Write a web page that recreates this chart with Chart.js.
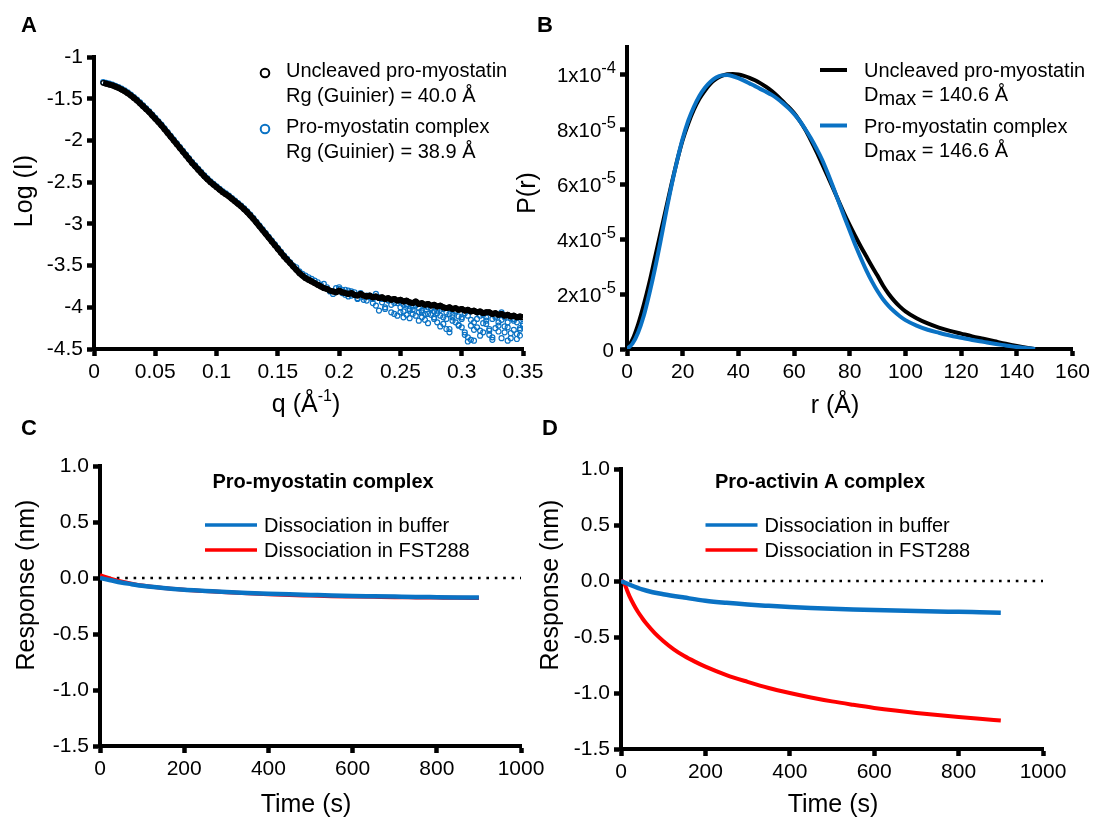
<!DOCTYPE html>
<html><head><meta charset="utf-8">
<script src="https://cdn.jsdelivr.net/npm/chart.js@4.4.1/dist/chart.umd.min.js"></script>
<style>
html,body{margin:0;padding:0;background:#fff;width:1094px;height:817px;overflow:hidden}
canvas{position:absolute;left:0;top:0}
</style></head><body>
<canvas id="cA" width="1094" height="817"></canvas>
<canvas id="cB" width="1094" height="817"></canvas>
<canvas id="cC" width="1094" height="817"></canvas>
<canvas id="cD" width="1094" height="817"></canvas>
<script>
// ---------- Panel A: SAXS log(I) vs q ----------
const qA = [0.0075,0.01,0.0125,0.015,0.0175,0.02,0.0225,0.025,0.0275,0.03,
0.0325,0.035,0.0375,0.04,0.0425,0.045,0.0475,0.05,0.0525,0.055,
0.0575,0.06,0.0625,0.065,0.0675,0.07,0.0725,0.075,0.0775,0.08,
0.0825,0.085,0.0875,0.09,0.0925,0.095,0.0975,0.1,0.1025,0.105,
0.1075,0.11,0.1125,0.115,0.1175,0.12,0.1225,0.125,0.1275,0.13,
0.1325,0.135,0.1375,0.14,0.1425,0.145,0.1475,0.15,0.1525,0.155,
0.1575,0.16,0.1625,0.165,0.1675,0.17,0.1725,0.175,0.1775,0.18,
0.1825,0.185,0.1875,0.19,0.1925,0.195,0.1975,0.2,0.2025,0.205,
0.2075,0.21,0.2125,0.215,0.2175,0.22,0.2225,0.225,0.2275,0.23,
0.2325,0.235,0.2375,0.24,0.2425,0.245,0.2475,0.25,0.2525,0.255,
0.2575,0.26,0.2625,0.265,0.2675,0.27,0.2725,0.275,0.2775,0.28,
0.2825,0.285,0.2875,0.29,0.2925,0.295,0.2975,0.3,0.3025,0.305,
0.3075,0.31,0.3125,0.315,0.3175,0.32,0.3225,0.325,0.3275,0.33,
0.3325,0.335,0.3375,0.34,0.3425,0.345,0.3475,0.35];
const aUncleaved = [-1.31,-1.32,-1.33,-1.34,-1.355,-1.37,-1.39,-1.41,-1.435,-1.46,
-1.49,-1.52,-1.555,-1.59,-1.625,-1.66,-1.70,-1.74,-1.78,-1.82,
-1.865,-1.91,-1.955,-2.00,-2.045,-2.09,-2.135,-2.18,-2.225,-2.27,
-2.31,-2.35,-2.39,-2.43,-2.465,-2.50,-2.53,-2.56,-2.59,-2.62,
-2.645,-2.67,-2.70,-2.73,-2.76,-2.79,-2.825,-2.86,-2.90,-2.94,
-2.985,-3.03,-3.075,-3.12,-3.165,-3.21,-3.255,-3.30,-3.345,-3.39,
-3.43,-3.47,-3.51,-3.55,-3.59,-3.62,-3.65,-3.67,-3.69,-3.71,
-3.73,-3.75,-3.77,-3.78,-3.80,-3.81,-3.82,-3.80,-3.82,-3.83,
-3.84,-3.83,-3.85,-3.86,-3.84,-3.86,-3.87,-3.86,-3.88,-3.87,
-3.89,-3.88,-3.90,-3.89,-3.91,-3.90,-3.92,-3.91,-3.93,-3.92,
-3.94,-3.95,-3.93,-3.96,-3.95,-3.97,-3.96,-3.98,-3.97,-3.99,
-3.98,-4.00,-4.01,-4.00,-4.02,-4.01,-4.03,-4.02,-4.04,-4.03,
-4.05,-4.04,-4.06,-4.05,-4.07,-4.06,-4.06,-4.08,-4.07,-4.09,
-4.08,-4.10,-4.09,-4.11,-4.10,-4.12,-4.11,-4.12];
const aComplex = [-1.30,-1.31,-1.32,-1.33,-1.345,-1.36,-1.38,-1.40,-1.425,-1.45,
-1.48,-1.51,-1.545,-1.58,-1.615,-1.65,-1.69,-1.73,-1.77,-1.81,
-1.855,-1.90,-1.945,-1.99,-2.035,-2.08,-2.125,-2.17,-2.215,-2.26,
-2.30,-2.34,-2.38,-2.42,-2.455,-2.49,-2.52,-2.55,-2.58,-2.61,
-2.635,-2.66,-2.69,-2.72,-2.75,-2.78,-2.815,-2.85,-2.89,-2.93,
-2.975,-3.02,-3.065,-3.11,-3.155,-3.20,-3.245,-3.29,-3.335,-3.38,
-3.42,-3.46,-3.50,-3.52,-3.57,-3.60,-3.62,-3.64,-3.66,-3.68,
-3.70,-3.73,-3.72,-3.76,-3.81,-3.84,-3.77,-3.76,-3.79,-3.85,
-3.80,-3.86,-3.82,-3.90,-3.84,-3.91,-3.86,-3.88,-3.95,-3.84,
-4.04,-3.90,-4.00,-3.92,-4.06,-3.95,-4.10,-3.93,-4.05,-3.98,
-4.02,-4.08,-3.94,-4.06,-4.12,-3.99,-4.08,-4.02,-4.14,-4.04,
-4.10,-4.20,-4.06,-4.26,-4.12,-4.05,-4.22,-4.14,-4.30,-4.36,
-4.39,-4.18,-4.24,-4.10,-4.30,-4.16,-4.28,-4.36,-4.12,-4.22,
-4.06,-4.30,-4.18,-4.37,-4.14,-4.32,-4.25,-4.20];
// additional complex points read for q >= 0.2 and q >= 0.25 (dense noisy region)
const qAHigh = qA.slice(77);
const aComplexHigh = [-3.78,-3.83,-3.79,-3.87,-3.81,-3.85,-3.89,-3.83,-3.88,-3.92,
-3.86,-3.90,-3.98,-3.88,-3.94,-4.02,-3.91,-3.97,-4.08,-3.95,
-4.00,-4.12,-3.96,-4.04,-3.99,-4.10,-4.01,-4.06,-4.15,-4.00,
-4.09,-4.05,-4.18,-4.03,-4.12,-4.26,-4.08,-4.16,-4.04,-4.21,
-4.12,-4.33,-4.10,-4.22,-4.40,-4.14,-4.28,-4.09,-4.20,-4.33,
-4.14,-4.25,-4.18,-4.37,-4.12,-4.24,-4.31,-4.16,-4.38,-4.27,-4.22];
const qAHigh2 = qA.slice(97);
const aComplexHigh2 = [-4.06,-3.97,-4.09,-4.13,-4.03,-3.98,-4.16,-4.04,-4.08,-4.19,
-4.01,-4.12,-4.07,-4.23,-4.02,-4.14,-4.30,-4.09,-4.18,-4.11,
-4.24,-4.07,-4.41,-4.15,-4.27,-4.06,-4.34,-4.19,-4.12,-4.26,
-4.39,-4.10,-4.29,-4.15,-4.23,-4.40,-4.13,-4.27,-4.18,-4.34,-4.14];
const aXTicks = [0,0.05,0.1,0.15,0.2,0.25,0.3,0.35];
const aXTickLabels = ['0','0.05','0.1','0.15','0.2','0.25','0.3','0.35'];
const aYTicks = [-4.5,-4,-3.5,-3,-2.5,-2,-1.5,-1];
const aYTickLabels = ['-4.5','-4','-3.5','-3','-2.5','-2','-1.5','-1'];

// ---------- Panel B: P(r) (values in units of 1e-5) ----------
const rB = [0,2,4,6,8,10,12,14,16,18,20,22,24,26,28,30,32,34,36,38,40,42,44,46,48,50,
52,54,56,58,60,62,64,66,68,70,72,74,76,78,80,82,84,86,88,90,92,94,96,98,100,
104,108,112,116,120,124,128,132,136,140,144,146.6];
const bUncleaved = [0,0.35,0.9,1.6,2.4,3.3,4.2,5.1,6.0,6.85,7.6,8.2,8.7,9.1,9.4,9.65,9.82,9.93,9.99,10.0,
9.98,9.93,9.86,9.77,9.66,9.53,9.38,9.2,9.0,8.8,8.58,8.3,7.98,7.6,7.19,6.75,6.3,5.85,5.38,4.92,
4.5,4.1,3.72,3.36,3.0,2.66,2.3,2.0,1.75,1.54,1.37,
1.12,0.93,0.78,0.66,0.56,0.46,0.37,0.28,0.19,0.11,0.04,0];
const bComplex = [0,0.2,0.6,1.2,2.0,2.9,3.9,4.95,5.95,6.85,7.65,8.3,8.8,9.2,9.5,9.72,9.87,9.95,9.96,9.92,
9.85,9.76,9.66,9.56,9.45,9.35,9.24,9.1,8.94,8.76,8.55,8.3,8.0,7.67,7.3,6.9,6.42,5.9,5.36,4.82,
4.3,3.78,3.3,2.85,2.45,2.1,1.8,1.56,1.36,1.19,1.05,
0.85,0.7,0.59,0.49,0.41,0.33,0.26,0.19,0.13,0.07,0.025,0];
const bXTicks = [0,20,40,60,80,100,120,140,160];
const bXTickLabels = ['0','20','40','60','80','100','120','140','160'];
const bYTicks = [0,2,4,6,8,10];
const bYTickLabels = ['0','2x10^-5','4x10^-5','6x10^-5','8x10^-5','1x10^-4'];

// ---------- Panels C and D: BLI dissociation ----------
const tGrid = [0,25,50,75,100,150,200,250,300,350,400,450,500,550,600,650,700,750,800,850,900];
const cBuffer = [0,-0.02,-0.04,-0.055,-0.07,-0.09,-0.105,-0.115,-0.125,-0.133,-0.14,-0.146,-0.151,-0.156,-0.16,-0.163,-0.166,-0.169,-0.171,-0.173,-0.175];
const cFST288 = [0.025,-0.005,-0.03,-0.05,-0.067,-0.09,-0.105,-0.117,-0.128,-0.137,-0.145,-0.152,-0.157,-0.162,-0.165,-0.168,-0.171,-0.173,-0.175,-0.177,-0.178];
const dBuffer = [0,-0.04,-0.075,-0.1,-0.118,-0.148,-0.176,-0.195,-0.21,-0.222,-0.233,-0.242,-0.248,-0.254,-0.259,-0.263,-0.268,-0.272,-0.275,-0.279,-0.283];
const tRed = [0,5,10,15,20,30,40,50,60,80,100,125,150,175,200,250,300,350,400,450,500,550,600,650,700,750,800,850,900];
const dFST288 = [0,-0.005,-0.04,-0.09,-0.135,-0.21,-0.275,-0.33,-0.38,-0.465,-0.535,-0.61,-0.67,-0.72,-0.765,-0.84,-0.9,-0.955,-1.0,-1.04,-1.075,-1.105,-1.133,-1.157,-1.178,-1.197,-1.214,-1.23,-1.245];
const zeroLineT = [0,1000];
const zeroLineV = [0,0];
const cdXTicks = [0,200,400,600,800,1000];
const cdXTickLabels = ['0','200','400','600','800','1000'];
const cdYTicks = [-1.5,-1,-0.5,0,0.5,1];
const cdYTickLabels = ['-1.5','-1.0','-0.5','0.0','0.5','1.0'];

// ---------- styling / helpers ----------
const FONT = "'Liberation Sans', Arial, Helvetica, sans-serif";
const BLUE = '#0a72c4';
const RED = '#ff0000';
const W = 1094, H = 817;

function pts(xs, ys) { return xs.map((x, i) => ({ x: x, y: ys[i] })); }

function makeAxis(o) {
  return {
    type: 'linear', position: o.pos, min: o.min, max: o.max,
    afterBuildTicks: s => { s.ticks = o.ticks.map(v => ({ value: v })); },
    afterFit: s => { if (o.pos === 'left') s.width = o.size; else s.height = o.size; },
    grid: { display: true, drawOnChartArea: false, drawTicks: true, tickLength: 7, tickWidth: 4.5, tickColor: '#000' },
    border: { display: true, color: '#000', width: 4 },
    ticks: { display: o.labels !== null, autoSkip: false, maxRotation: 0, minRotation: 0, color: '#000',
      padding: o.pad, font: { family: FONT, size: o.fs || 21 },
      callback: (v, i) => (o.labels ? o.labels[i] : '') }
  };
}
function layoutFor(l, t, r, b, yW, xH) {
  return { padding: { left: l - yW, top: t, right: W - r, bottom: H - b - xH } };
}
function txt(ctx, s, x, y, size, o) {
  o = o || {};
  ctx.save();
  ctx.font = (o.bold ? 'bold ' : '') + size + 'px ' + FONT;
  ctx.fillStyle = o.color || '#000';
  ctx.textAlign = o.align || 'left';
  ctx.textBaseline = o.baseline || 'alphabetic';
  ctx.fillText(s, x, y);
  ctx.restore();
}
function vtxt(ctx, s, cx, cy, size) {
  ctx.save();
  ctx.translate(cx, cy);
  ctx.rotate(-Math.PI / 2);
  ctx.font = size + 'px ' + FONT;
  ctx.fillStyle = '#000';
  ctx.textAlign = 'center';
  ctx.textBaseline = 'middle';
  ctx.fillText(s, 0, 0);
  ctx.restore();
}
// parts: [text, size, baselineShift]
function rich(ctx, parts, x, baseline, align) {
  ctx.save();
  ctx.fillStyle = '#000';
  ctx.textBaseline = 'alphabetic';
  ctx.textAlign = 'left';
  let total = 0;
  const ws = parts.map(p => { ctx.font = p[1] + 'px ' + FONT; const w = ctx.measureText(p[0]).width; total += w; return w; });
  let cx = align === 'center' ? x - total / 2 : (align === 'right' ? x - total : x);
  parts.forEach((p, i) => { ctx.font = p[1] + 'px ' + FONT; ctx.fillText(p[0], cx, baseline + p[2]); cx += ws[i]; });
  ctx.restore();
}
function hline(ctx, x1, x2, y, color, w) {
  ctx.save(); ctx.strokeStyle = color; ctx.lineWidth = w; ctx.beginPath();
  ctx.moveTo(x1, y); ctx.lineTo(x2, y); ctx.stroke(); ctx.restore();
}
function circle(ctx, x, y, r, color, w) {
  ctx.save(); ctx.strokeStyle = color; ctx.lineWidth = w; ctx.beginPath();
  ctx.arc(x, y, r, 0, Math.PI * 2); ctx.stroke(); ctx.restore();
}

const base = { responsive: false, animation: false, devicePixelRatio: 1,
  plugins: { legend: { display: false }, tooltip: { enabled: false } }, events: [] };

// ---------- Chart A ----------
new Chart(document.getElementById('cA'), {
  type: 'scatter',
  data: { datasets: [
    { data: pts(qA, aUncleaved), showLine: true, borderColor: '#000', borderWidth: 6, tension: 0, borderJoinStyle: 'round',
      pointRadius: 2.3, pointBorderWidth: 1.3, pointBorderColor: '#000', pointBackgroundColor: 'rgba(0,0,0,0)' },
    { data: pts(qA, aComplex).concat(pts(qAHigh, aComplexHigh), pts(qAHigh2, aComplexHigh2)), showLine: false,
      pointRadius: 2.5, pointBorderWidth: 1.2, pointBorderColor: BLUE, pointBackgroundColor: 'rgba(0,0,0,0)' }
  ] },
  options: Object.assign({}, base, {
    layout: layoutFor(94, 57, 523, 349, 70, 50),
    scales: {
      x: makeAxis({ pos: 'bottom', min: 0, max: 0.35, ticks: aXTicks, labels: aXTickLabels, size: 50, pad: 4 }),
      y: makeAxis({ pos: 'left', min: -4.5, max: -1, ticks: aYTicks, labels: aYTickLabels, size: 70, pad: 4 })
    }
  }),
  plugins: [{ id: 'decoA', afterDraw(chart) {
    const ctx = chart.ctx;
    txt(ctx, 'A', 21, 32, 22, { bold: true });
    vtxt(ctx, 'Log (I)', 25, 191, 25);
    rich(ctx, [['q (Å', 25, 0], ['-1', 16, -11], [')', 25, 0]], 306, 412, 'center');
    circle(ctx, 265, 73, 4.3, '#000', 2);
    circle(ctx, 265, 129, 4.3, BLUE, 2);
    txt(ctx, 'Uncleaved pro-myostatin', 286, 77, 20);
    txt(ctx, 'Rg (Guinier) = 40.0 Å', 286, 102, 20);
    txt(ctx, 'Pro-myostatin complex', 286, 133, 20);
    txt(ctx, 'Rg (Guinier) = 38.9 Å', 286, 158, 20);
  } }]
});

// ---------- Chart B ----------
new Chart(document.getElementById('cB'), {
  type: 'scatter',
  data: { datasets: [
    { data: pts(rB, bComplex), showLine: true, borderColor: BLUE, borderWidth: 4, cubicInterpolationMode: 'monotone', pointRadius: 0 },
    { data: pts(rB, bUncleaved), showLine: true, borderColor: '#000', borderWidth: 4, cubicInterpolationMode: 'monotone', pointRadius: 0 }
  ] },
  options: Object.assign({}, base, {
    layout: layoutFor(627, 46.5, 1075, 349, 80, 50),
    scales: {
      x: makeAxis({ pos: 'bottom', min: 0, max: 160, ticks: bXTicks, labels: bXTickLabels, size: 50, pad: 4 }),
      y: makeAxis({ pos: 'left', min: 0, max: 11, ticks: bYTicks, labels: null, size: 80, pad: 4 })
    }
  }),
  plugins: [{ id: 'decoB', afterDraw(chart) {
    const ctx = chart.ctx;
    const ys = chart.scales.y;
    bYTicks.forEach((v, i) => {
      const y = ys.getPixelForValue(v);
      const parts = bYTickLabels[i].split('^');
      if (parts.length === 1) rich(ctx, [[parts[0], 20.5, 0]], 614, y + 7.5, 'right');
      else rich(ctx, [[parts[0], 20.5, 0], [parts[1], 16.5, -8.5]], 616, y + 7.5, 'right');
    });
    txt(ctx, 'B', 537, 32, 22, { bold: true });
    vtxt(ctx, 'P(r)', 528, 193, 25);
    txt(ctx, 'r (Å)', 835, 413, 25, { align: 'center' });
    hline(ctx, 820, 847, 70, '#000', 4);
    hline(ctx, 820, 847, 125.5, BLUE, 4);
    txt(ctx, 'Uncleaved pro-myostatin', 864, 77, 20);
    rich(ctx, [['D', 20, 0], ['max', 20, 4], [' = 140.6 Å', 20, 0]], 864, 101, 'left');
    txt(ctx, 'Pro-myostatin complex', 864, 132.5, 20);
    rich(ctx, [['D', 20, 0], ['max', 20, 4], [' = 146.6 Å', 20, 0]], 864, 157, 'left');
  } }]
});

// ---------- Chart C / D ----------
function bliChart(id, area, buffer, fstT, fst, letter, title, lx, titleX, yTitleX, xTitleX) {
  new Chart(document.getElementById(id), {
    type: 'scatter',
    data: { datasets: [
      { data: pts(tGrid, buffer), showLine: true, borderColor: BLUE, borderWidth: 4.5, cubicInterpolationMode: 'monotone', pointRadius: 0 },
      { data: pts(fstT, fst), showLine: true, borderColor: RED, borderWidth: 4, cubicInterpolationMode: 'monotone', pointRadius: 0 },
      { data: pts(zeroLineT, zeroLineV), showLine: true, borderColor: '#000', borderWidth: 2.6, borderDash: [2.6, 5.8], pointRadius: 0 }
    ] },
    options: Object.assign({}, base, {
      layout: layoutFor(area[0], area[1], area[2], area[3], 70, 50),
      scales: {
        x: makeAxis({ pos: 'bottom', min: 0, max: 1000, ticks: cdXTicks, labels: cdXTickLabels, size: 50, pad: 4 }),
        y: makeAxis({ pos: 'left', min: -1.5, max: 1, ticks: cdYTicks, labels: cdYTickLabels, size: 70, pad: 4 })
      }
    }),
    plugins: [{ id: 'deco' + letter, afterDraw(chart) {
      const ctx = chart.ctx;
      txt(ctx, letter, area[0] - 79, 435, 22, { bold: true });
      vtxt(ctx, 'Response (nm)', yTitleX, 585, 25);
      txt(ctx, 'Time (s)', xTitleX, 812, 25, { align: 'center' });
      txt(ctx, title, titleX, 488, 20, { bold: true });
      hline(ctx, lx, lx + 52, 525, BLUE, 3.5);
      hline(ctx, lx, lx + 52, 550, RED, 3.5);
      txt(ctx, 'Dissociation in buffer', lx + 59, 532, 20);
      txt(ctx, 'Dissociation in FST288', lx + 59, 557, 20);
    } }]
  });
}
bliChart('cC', [100, 466, 521, 746], cBuffer, tGrid, cFST288, 'C', 'Pro-myostatin complex', 205, 212.5, 27, 306);
bliChart('cD', [621, 469, 1043, 749], dBuffer, tRed, dFST288, 'D', 'Pro-activin A complex', 705.5, 715, 551, 833);
</script>
</body></html>
